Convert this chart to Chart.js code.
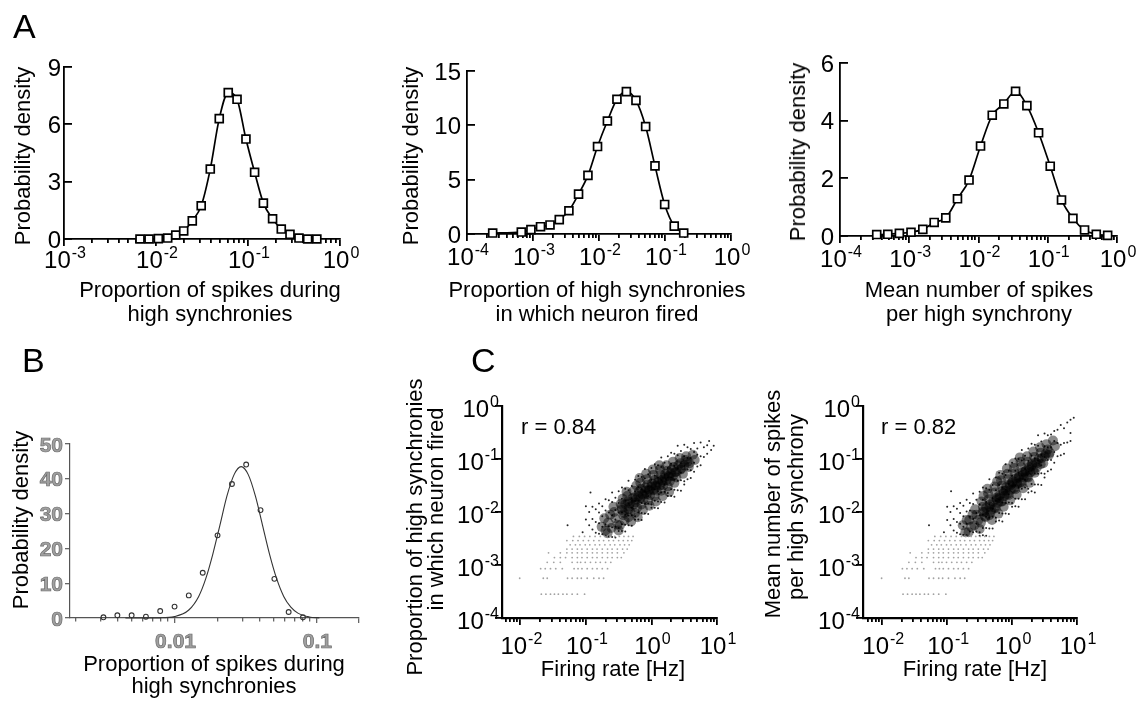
<!DOCTYPE html>
<html>
<head>
<meta charset="utf-8">
<title>Participation of neurons in high synchronies</title>
<script src="https://cdn.jsdelivr.net/npm/chart.js@4.4.1/dist/chart.umd.min.js"></script>
<style>
  body { margin: 0; background: #fff; }
  #fig { position: relative; width: 1139px; height: 701px; overflow: hidden;
         font-family: "Liberation Sans", Arial, sans-serif; color: #000; }
  #fig canvas { position: absolute; left: 0; top: 0; }
  .lbl { position: absolute; white-space: nowrap; font-size: 22px; line-height: 22px; }
  .ctr { transform: translateX(-50%); }
  .rot { transform: translate(-50%, -50%) rotate(-90deg); }
  .letter { position: absolute; font-size: 34px; line-height: 34px; }
</style>
</head>
<body>
<div id="fig">
  <canvas id="chartA1" width="1139" height="701"></canvas>
  <canvas id="chartA2" width="1139" height="701"></canvas>
  <canvas id="chartA3" width="1139" height="701"></canvas>
  <canvas id="chartB" width="1139" height="701"></canvas>
  <canvas id="chartC1" width="1139" height="701"></canvas>
  <canvas id="chartC2" width="1139" height="701"></canvas>

  <div class="letter" style="left:13px;top:9px">A</div>
  <div class="letter" style="left:22px;top:343px">B</div>
  <div class="letter" style="left:471px;top:343px">C</div>

  <!-- panel A axis titles -->
  <div class="lbl rot" style="left:23px;top:156px">Probability density</div>
  <div class="lbl rot" style="left:411px;top:156px">Probability density</div>
  <div class="lbl rot" style="left:798px;top:152px">Probability density</div>
  <div class="lbl ctr" style="left:210px;top:279px">Proportion of spikes during</div>
  <div class="lbl ctr" style="left:210px;top:303px">high synchronies</div>
  <div class="lbl ctr" style="left:597px;top:279px">Proportion of high synchronies</div>
  <div class="lbl ctr" style="left:597px;top:303px">in which neuron fired</div>
  <div class="lbl ctr" style="left:979px;top:279px">Mean number of spikes</div>
  <div class="lbl ctr" style="left:979px;top:303px">per high synchrony</div>

  <!-- panel B axis titles -->
  <div class="lbl rot" style="left:21px;top:520px">Probability density</div>
  <div class="lbl ctr" style="left:214px;top:653px">Proportion of spikes during</div>
  <div class="lbl ctr" style="left:214px;top:675px">high synchronies</div>

  <!-- panel C axis titles -->
  <div class="lbl rot" style="left:415px;top:527px">Proportion of high synchronies</div>
  <div class="lbl rot" style="left:436px;top:509px">in which neuron fired</div>
  <div class="lbl rot" style="left:773px;top:504px">Mean number of spikes</div>
  <div class="lbl rot" style="left:796px;top:507px">per high synchrony</div>
  <div class="lbl ctr" style="left:613px;top:658px">Firing rate [Hz]</div>
  <div class="lbl ctr" style="left:975px;top:658px">Firing rate [Hz]</div>
  <div class="lbl" style="left:521px;top:416px">r = 0.84</div>
  <div class="lbl" style="left:881px;top:416px">r = 0.82</div>
</div>

<script>
const W = 1139, H = 701;

// ---- Panel A, left: proportion of spikes during high synchronies
const a1Proportion = [0.0067, 0.0084, 0.0106, 0.0134, 0.0164, 0.0200, 0.0248, 0.031, 0.0389, 0.0487, 0.061,
                      0.076, 0.095, 0.118, 0.147, 0.185, 0.23, 0.286, 0.358, 0.445, 0.56];
const a1Density = [0, 0, 0.02, 0.05, 0.21, 0.42, 0.95, 1.74, 3.66, 6.3, 7.66,
                   7.31, 5.23, 3.49, 1.88, 1.06, 0.52, 0.24, 0.05, 0, 0];

// ---- Panel A, middle: proportion of high synchronies in which neuron fired
const a2Proportion = [0.000245, 0.000665, 0.00093, 0.0013, 0.00181, 0.0025, 0.0035, 0.0049, 0.0068, 0.0095,
                      0.0134, 0.0187, 0.026, 0.0363, 0.0509, 0.0705, 0.0988, 0.138, 0.192];
const a2Density = [0.09, 0.18, 0.4, 0.67, 0.83, 1.32, 2.14, 3.67, 5.39, 8.05,
                   10.4, 12.4, 13.1, 12.3, 9.89, 6.27, 2.72, 0.73, 0.09];

// ---- Panel A, right: mean number of spikes per high synchrony
const a3MeanSpikes = [0.000339, 0.00049, 0.00072, 0.00106, 0.00157, 0.00229, 0.00337, 0.00497, 0.0073, 0.0107,
                      0.0158, 0.0232, 0.0343, 0.050, 0.0737, 0.1086, 0.158, 0.231, 0.34, 0.502, 0.733];
const a3Density = [0.05, 0.06, 0.09, 0.13, 0.23, 0.47, 0.63, 1.29, 1.94, 3.12,
                   4.19, 4.58, 5.02, 4.52, 3.58, 2.42, 1.25, 0.61, 0.21, 0.06, 0.02];

// ---- Panel B: histogram points and fitted curve
const bProportion = [0.00315, 0.00395, 0.00498, 0.00628, 0.00792, 0.01, 0.0126, 0.0158, 0.0201, 0.0254,
                     0.032, 0.0404, 0.0506, 0.0638, 0.0805];
const bDensity = [0.2, 0.77, 0.77, 0.38, 2.0, 3.27, 6.5, 13.0, 23.75, 38.5,
                  44.1, 31.0, 11.25, 1.73, 0.2];
const bFitProportion = [0.0045, 0.0079, 0.01, 0.0126, 0.0148, 0.0166, 0.0186, 0.0209, 0.0234, 0.0263, 0.0295,
                        0.0331, 0.0372, 0.0417, 0.0468, 0.0525, 0.0589, 0.0661, 0.0741, 0.0891, 0.105];
const bFitDensity = [0, 0.05, 0.4, 2.3, 6.2, 11.3, 18.3, 26.7, 35.0, 41.2, 43.5,
                     41.2, 35.0, 26.7, 18.3, 11.3, 6.2, 3.1, 1.4, 0.3, 0.03];

// ---- Panel C scatter clouds, read as log10 values
// low-rate neurons sit on discrete rows (k spikes out of all synchronies); same in both panels
const lowRateRowsLog = [
  [-3.55, [-1.68, -1.61, -1.54, -1.48, -1.42, -1.35, -1.29, -1.21, -1.13, -1.02]],
  [-3.25, [-2.01, -1.65, -1.59, -1.28, -1.21, -1.13, -1.07, -0.98, -0.88, -0.80, -0.73]],
  [-3.07, [-1.69, -1.62, -1.54, -1.46, -1.36, -1.18, -1.12, -1.06, -0.98, -0.90, -0.83, -0.75, -0.67]],
  [-2.95, [-1.59, -1.49, -1.39, -1.21, -1.13, -1.08, -1.01, -0.93, -0.85, -0.78, -0.70, -0.62]],
  [-2.86, [-1.48, -1.39, -1.31, -1.21, -1.13, -1.06, -0.98, -0.90, -0.83, -0.75, -0.67, -0.60, -0.52, -0.46]],
  [-2.77, [-1.57, -1.39, -1.29, -1.21, -1.13, -1.06, -0.98, -0.90, -0.83, -0.75, -0.67, -0.60, -0.52, -0.42]],
  [-2.70, [-1.29, -1.21, -1.13, -1.06, -0.98, -0.90, -0.83, -0.75, -0.67, -0.60, -0.52, -0.44, -0.37]],
  [-2.62, [-1.24, -1.16, -1.09, -1.01, -0.94, -0.86, -0.79, -0.71, -0.63, -0.56, -0.48, -0.41, -0.34]],
  [-2.54, [-1.29, -1.20, -1.12, -1.04, -0.96, -0.88, -0.80, -0.73, -0.65, -0.58, -0.50, -0.43, -0.36, -0.30]],
  [-2.46, [-1.19, -1.10, -1.02, -0.94, -0.86, -0.78, -0.71, -0.63, -0.56, -0.49, -0.42, -0.35, -0.28]]
];

// dense core of panel C, left: [log10 rate, log10 proportion]
const c1CoreLog = [
  [-0.76,-2.28],[-0.72,-2.12],[-0.70,-2.35],[-0.66,-2.20],[-0.63,-2.05],[-0.61,-2.30],[-0.67,-2.40],
  [-0.57,-2.00],[-0.55,-2.12],[-0.52,-2.24],[-0.58,-1.90],[-0.50,-2.35],
  [-0.47,-1.85],[-0.45,-1.96],[-0.43,-2.06],[-0.41,-2.16],[-0.48,-2.25],[-0.44,-1.75],
  [-0.37,-1.70],[-0.36,-1.80],[-0.34,-1.90],[-0.32,-2.00],[-0.35,-2.10],[-0.38,-1.62],[-0.31,-2.18],
  [-0.27,-1.60],[-0.26,-1.72],[-0.24,-1.82],[-0.22,-1.92],[-0.25,-2.02],[-0.23,-1.50],[-0.21,-2.10],
  [-0.17,-1.45],[-0.16,-1.56],[-0.14,-1.66],[-0.12,-1.76],[-0.15,-1.86],[-0.13,-1.96],[-0.18,-1.36],
  [-0.07,-1.38],[-0.06,-1.48],[-0.04,-1.58],[-0.02,-1.68],[-0.05,-1.78],[-0.03,-1.88],[-0.08,-1.28],
  [0.03,-1.30],[0.04,-1.40],[0.06,-1.50],[0.08,-1.60],[0.05,-1.70],[0.07,-1.80],[0.02,-1.20],
  [0.13,-1.20],[0.14,-1.30],[0.16,-1.40],[0.18,-1.50],[0.15,-1.60],[0.17,-1.70],[0.12,-1.12],
  [0.23,-1.12],[0.24,-1.22],[0.26,-1.32],[0.28,-1.42],[0.25,-1.52],[0.27,-1.62],
  [0.33,-1.05],[0.34,-1.15],[0.36,-1.25],[0.38,-1.35],[0.35,-1.45],
  [0.43,-0.98],[0.44,-1.08],[0.46,-1.18],[0.48,-1.28],[0.53,-0.95],[0.55,-1.05],[0.57,-1.15],
  [0.63,-0.92],[0.66,-1.02],
  [-0.45,-1.92],[-0.42,-2.02],[-0.40,-1.85],[-0.35,-1.95],[-0.33,-1.84],[-0.29,-1.74],[-0.27,-1.86],
  [-0.24,-1.77],[-0.20,-1.70],[-0.19,-1.62],[-0.17,-1.74],[-0.13,-1.68],[-0.10,-1.60],[-0.09,-1.54],
  [-0.07,-1.66],[-0.03,-1.60],[0.00,-1.52],[0.01,-1.46],[0.03,-1.58],[0.07,-1.52],[0.10,-1.44],
  [0.11,-1.38],[0.13,-1.50],[0.17,-1.43],[0.20,-1.35],[0.21,-1.28],[0.23,-1.40],[0.27,-1.34],
  [0.30,-1.27],[0.31,-1.20],[0.33,-1.32],[0.38,-1.24],[0.41,-1.12],[0.44,-1.20],[0.50,-1.12],
  [0.52,-1.02],[0.58,-1.08]
];
// scattered outer dots of panel C, left: [log10 rate, [log10 proportion ...]]
const c1GrainLog = [
  [-1.00, [-1.89, -2.14]], [-0.95, [-2.00, -2.25]], [-0.90, [-1.90, -2.13, -2.33]],
  [-0.85, [-1.95, -2.19, -2.39]], [-0.80, [-1.84, -2.01, -2.21, -2.41]], [-0.75, [-1.89, -2.08, -2.28, -2.42]],
  [-0.70, [-1.76, -1.97, -2.23, -2.45]], [-0.65, [-1.78, -2.01, -2.27, -2.46]],
  [-0.60, [-1.63, -1.81, -2.06, -2.29, -2.47]], [-0.55, [-1.73, -1.96, -2.14, -2.28, -2.48]],
  [-0.50, [-1.61, -1.83, -2.01, -2.30, -2.36]], [-0.45, [-1.54, -1.75, -2.01, -2.23, -2.36]],
  [-0.40, [-1.56, -1.79, -2.05, -2.24, -2.37]], [-0.35, [-1.41, -1.59, -1.84, -2.07, -2.25]],
  [-0.30, [-1.51, -1.74, -1.92, -2.06, -2.26]], [-0.25, [-1.39, -1.61, -1.79, -2.08, -2.14]],
  [-0.20, [-1.32, -1.53, -1.79, -2.01, -2.14]], [-0.15, [-1.34, -1.57, -1.83, -2.02, -2.15]],
  [-0.10, [-1.19, -1.37, -1.62, -1.85, -2.03]], [-0.05, [-1.29, -1.52, -1.70, -1.84, -2.04]],
  [0.00, [-1.17, -1.39, -1.57, -1.86, -1.92]], [0.05, [-1.10, -1.31, -1.57, -1.79, -1.92]],
  [0.10, [-1.12, -1.35, -1.61, -1.80, -1.93]], [0.15, [-0.97, -1.15, -1.40, -1.63, -1.81]],
  [0.20, [-1.07, -1.30, -1.48, -1.62, -1.82]], [0.25, [-0.95, -1.17, -1.35, -1.64, -1.70]],
  [0.30, [-0.88, -1.09, -1.35, -1.57, -1.70]], [0.35, [-0.90, -1.13, -1.39, -1.58, -1.71]],
  [0.40, [-0.75, -0.93, -1.18, -1.41, -1.59]], [0.45, [-0.85, -1.08, -1.26, -1.40, -1.60]],
  [0.50, [-0.73, -0.95, -1.13, -1.42, -1.48]], [0.55, [-0.78, -0.98, -1.20, -1.38]],
  [0.60, [-0.81, -0.98, -1.21, -1.36]], [0.65, [-0.70, -0.87, -1.07, -1.24]],
  [0.70, [-0.80, -0.92, -1.14]], [0.75, [-0.69, -0.95, -1.12]], [0.80, [-0.78, -0.96]],
  [0.85, [-0.74, -0.90]], [0.88, [-0.66]], [0.91, [-0.83]], [0.95, [-0.75]],
  [-0.93, [-1.63]], [-1.28, [-2.25]], [-1.05, [-2.38]]
];

// dense core of panel C, right: [log10 rate, log10 spikes per synchrony]
const c2CoreLog = [
  [-0.76,-2.25],[-0.72,-2.38],[-0.70,-2.15],[-0.66,-2.15],[-0.63,-2.28],[-0.61,-2.05],[-0.67,-2.38],
  [-0.57,-1.95],[-0.55,-2.05],[-0.52,-2.15],[-0.58,-2.25],[-0.50,-2.32],
  [-0.47,-1.80],[-0.45,-1.90],[-0.43,-2.00],[-0.41,-2.10],[-0.48,-2.20],[-0.44,-1.70],
  [-0.37,-1.65],[-0.36,-1.76],[-0.34,-1.86],[-0.32,-1.96],[-0.35,-2.06],[-0.38,-1.56],[-0.31,-2.15],
  [-0.27,-1.52],[-0.26,-1.63],[-0.24,-1.73],[-0.22,-1.83],[-0.25,-1.93],[-0.23,-1.42],[-0.21,-2.03],
  [-0.17,-1.40],[-0.16,-1.50],[-0.14,-1.60],[-0.12,-1.70],[-0.15,-1.80],[-0.13,-1.90],[-0.18,-1.30],
  [-0.07,-1.28],[-0.06,-1.38],[-0.04,-1.48],[-0.02,-1.58],[-0.05,-1.68],[-0.03,-1.78],[-0.08,-1.18],
  [0.03,-1.17],[0.04,-1.27],[0.06,-1.37],[0.08,-1.47],[0.05,-1.57],[0.07,-1.67],[0.02,-1.08],
  [0.13,-1.05],[0.14,-1.15],[0.16,-1.25],[0.18,-1.35],[0.15,-1.45],[0.17,-1.55],[0.12,-0.97],
  [0.23,-0.95],[0.24,-1.05],[0.26,-1.15],[0.28,-1.25],[0.25,-1.35],[0.27,-1.45],
  [0.33,-0.86],[0.34,-0.96],[0.36,-1.06],[0.38,-1.16],[0.35,-1.26],
  [0.43,-0.78],[0.44,-0.88],[0.46,-0.98],[0.48,-1.08],[0.53,-0.72],[0.55,-0.82],[0.57,-0.92],
  [0.63,-0.65],[0.66,-0.76],
  [-0.45,-1.99],[-0.42,-2.08],[-0.40,-1.92],[-0.35,-1.90],[-0.33,-2.00],[-0.29,-1.80],[-0.27,-1.92],
  [-0.24,-1.76],[-0.20,-1.74],[-0.19,-1.68],[-0.17,-1.80],[-0.13,-1.64],[-0.10,-1.60],[-0.09,-1.54],
  [-0.07,-1.66],[-0.03,-1.50],[0.00,-1.45],[0.01,-1.42],[0.03,-1.55],[0.07,-1.44],[0.10,-1.35],
  [0.11,-1.32],[0.13,-1.44],[0.17,-1.30],[0.20,-1.24],[0.21,-1.22],[0.23,-1.34],[0.27,-1.20],
  [0.30,-1.13],[0.31,-1.10],[0.33,-1.22],[0.38,-1.08],[0.41,-1.00],[0.44,-1.10],[0.50,-0.95],
  [0.52,-0.90],[0.58,-0.88]
];
const c2GrainLog = [
  [-1.00, [-1.90, -2.15]], [-0.95, [-2.00, -2.25]], [-0.90, [-1.89, -2.13, -2.35]],
  [-0.85, [-1.94, -2.19, -2.39]], [-0.80, [-1.83, -2.02, -2.22, -2.42]], [-0.75, [-1.88, -2.08, -2.28, -2.43]],
  [-0.70, [-1.77, -1.99, -2.22, -2.44]], [-0.65, [-1.83, -1.97, -2.09, -2.37]],
  [-0.60, [-1.65, -1.85, -2.13, -2.38]], [-0.55, [-1.77, -2.02, -2.22, -2.37]],
  [-0.50, [-1.62, -1.86, -2.06, -2.38, -2.45]], [-0.45, [-1.54, -1.77, -2.05, -2.30, -2.44]],
  [-0.40, [-1.55, -1.81, -2.09, -2.30, -2.45]], [-0.35, [-1.38, -1.58, -1.86, -2.11, -2.31]],
  [-0.30, [-1.49, -1.74, -1.94, -2.09, -2.31]], [-0.25, [-1.35, -1.59, -1.79, -2.11, -2.18]],
  [-0.20, [-1.26, -1.49, -1.77, -2.02, -2.16]], [-0.15, [-1.28, -1.54, -1.82, -2.03, -2.18]],
  [-0.10, [-1.10, -1.30, -1.58, -1.83, -2.03]], [-0.05, [-1.22, -1.47, -1.67, -1.82, -2.04]],
  [0.00, [-1.07, -1.31, -1.51, -1.83, -1.90]], [0.05, [-0.99, -1.22, -1.50, -1.75, -1.89]],
  [0.10, [-1.00, -1.26, -1.54, -1.75, -1.90]], [0.15, [-0.83, -1.03, -1.31, -1.56, -1.76]],
  [0.20, [-0.94, -1.19, -1.39, -1.54, -1.76]], [0.25, [-0.80, -1.04, -1.24, -1.56, -1.63]],
  [0.30, [-0.71, -0.94, -1.22, -1.47, -1.61]], [0.35, [-0.73, -0.99, -1.27, -1.48, -1.63]],
  [0.40, [-0.55, -0.75, -1.03, -1.28, -1.48]], [0.45, [-0.67, -0.92, -1.12, -1.27, -1.49]],
  [0.50, [-0.52, -0.76, -0.96, -1.28, -1.35]], [0.55, [-0.55, -0.78, -1.02, -1.23]],
  [0.60, [-0.54, -0.78, -1.02, -1.20]], [0.65, [-0.47, -0.66, -0.87, -1.07]],
  [0.70, [-0.45, -0.70, -0.95]], [0.75, [-0.36, -0.73, -0.93]], [0.80, [-0.42, -0.70, -0.90]],
  [0.85, [-0.31, -0.69]], [0.90, [-0.26, -0.51, -0.66]], [0.95, [-0.22]],
  [-0.94, [-1.61]], [-1.28, [-2.25]], [-1.05, [-2.38]]
];

// ---- tick values and labels ("^" marks an exponent)
const a1XTicks = [0.001, 0.01, 0.1, 1];
const a1XLabels = ['10^-3', '10^-2', '10^-1', '10^0'];
const a1YTicks = [0, 3, 6, 9];
const a1YLabels = ['0', '3', '6', '9'];
const a2XTicks = [0.0001, 0.001, 0.01, 0.1, 1];
const a2XLabels = ['10^-4', '10^-3', '10^-2', '10^-1', '10^0'];
const a2YTicks = [0, 5, 10, 15];
const a2YLabels = ['0', '5', '10', '15'];
const a3YTicks = [0, 2, 4, 6];
const a3YLabels = ['0', '2', '4', '6'];
const bXTicks = [0.01, 0.1];
const bXLabels = ['0.01', '0.1'];
const bYTicks = [0, 10, 20, 30, 40, 50];
const bYLabels = ['0', '10', '20', '30', '40', '50'];
const cXTicks = [0.01, 0.1, 1, 10];
const cXLabels = ['10^-2', '10^-1', '10^0', '10^1'];
const cYTicks = [0.0001, 0.001, 0.01, 0.1, 1];
const cYLabels = ['10^-4', '10^-3', '10^-2', '10^-1', '10^0'];

// helpers
const toPoints = (xs, ys) => xs.map((x, i) => ({ x: x, y: ys[i] }));
const fromLog = pairs => pairs.map(p => ({ x: Math.pow(10, p[0]), y: Math.pow(10, p[1]) }));
const rowsToPoints = rows => rows.flatMap(r => r[1].map(lx => ({ x: Math.pow(10, lx), y: Math.pow(10, r[0]) })));
const columnsToPoints = cols => cols.flatMap(c => c[1].map(ly => ({ x: Math.pow(10, c[0]), y: Math.pow(10, ly) })));

function minorTicks(lo, hi) {
  const out = [];
  for (let e = Math.floor(Math.log10(lo)); e <= Math.ceil(Math.log10(hi)); e++) {
    for (let k = 2; k <= 9; k++) {
      const v = k * Math.pow(10, e);
      if (v > lo * 1.0001 && v < hi * 0.9999) out.push(v);
    }
  }
  return out;
}

function drawTickLabel(ctx, d, label, x, cy, align) {
  const parts = label.split('^');
  ctx.font = d.font;
  const wBase = ctx.measureText(parts[0]).width;
  let wExp = 0;
  if (parts[1]) { ctx.font = d.expFont; wExp = ctx.measureText(parts[1]).width + 1; }
  const left = align === 'center' ? x - (wBase + wExp) / 2 : x - (wBase + wExp);
  const baseline = cy + d.capHalf;
  ctx.textAlign = 'left';
  ctx.textBaseline = 'alphabetic';
  ctx.fillStyle = d.labelColor;
  ctx.font = d.font;
  ctx.fillText(parts[0], left, baseline);
  if (d.labelStroke) {
    ctx.strokeStyle = d.labelStroke;
    ctx.lineWidth = 0.7;
    ctx.strokeText(parts[0], left, baseline);
  }
  if (parts[1]) {
    ctx.font = d.expFont;
    ctx.fillText(parts[1], left + wBase + 1, baseline - d.expRaise);
  }
}

// tick labels with raised exponents, placed with the chart's own scales
function tickLabels(d) {
  return {
    id: 'tickLabels',
    afterDraw(chart) {
      const ctx = chart.ctx, xs = chart.scales.x, ys = chart.scales.y, a = chart.chartArea;
      ctx.save();
      d.xTicks.forEach((v, i) => drawTickLabel(ctx, d, d.xLabels[i], xs.getPixelForValue(v) + 1, a.bottom + d.xGap, 'center'));
      d.yTicks.forEach((v, i) => drawTickLabel(ctx, d, d.yLabels[i], a.left - d.yGap, ys.getPixelForValue(v) + (d.yDy || 0), 'right'));
      ctx.restore();
    }
  };
}

const FONT = '"Liberation Sans", Arial, sans-serif';
const styleA = { axisColor: '#000', axisWidth: 1.8, tickColor: '#000', tickWidth: 1.8, xMajorLen: 7, xMinorLen: 4,
                 yLen: -8, xGap: 21, font: '24px ' + FONT, expFont: '16px ' + FONT, capHalf: 8.6, expRaise: 9.5,
                 labelColor: '#000' };
const styleB = { axisColor: '#555', axisWidth: 1.2, tickColor: '#666', tickWidth: 1.3, xMajorLen: 5, xMinorLen: 3.5,
                 yLen: 5, xGap: 22, yGap: 7, font: 'bold 21px ' + FONT, expFont: 'bold 15px ' + FONT,
                 capHalf: 7.5, expRaise: 9, labelColor: '#a0a0a0', labelStroke: '#6a6a6a' };
const styleC = { axisColor: '#000', axisWidth: 2.2, tickColor: '#000', tickWidth: 1.8, xMajorLen: 7, xMinorLen: 4,
                 yLen: 7, xGap: 27, yGap: 3, yDy: 2, font: '24px ' + FONT, expFont: '16px ' + FONT,
                 capHalf: 8.6, expRaise: 9.5, labelColor: '#000' };

// an axis of zero thickness whose tick marks are drawn by Chart.js at the given values
function axisWithTicks(base, values, tickLength, d, isX, withBorder) {
  return Object.assign({}, base, {
    display: true,
    position: isX ? 'bottom' : 'left',
    ticks: { display: false },
    grid: { display: true, drawOnChartArea: false, drawTicks: true, tickLength: tickLength,
            color: d.tickColor, tickColor: d.tickColor, lineWidth: d.tickWidth, tickWidth: d.tickWidth },
    border: { display: withBorder, color: d.axisColor, width: d.axisWidth },
    afterBuildTicks: s => { s.ticks = values.map(v => ({ value: v })); },
    afterFit: s => { if (isX) s.height = 0; else s.width = 0; }
  });
}

// box = [left, right, top, bottom] of the plotting area in page pixels
function makeChart(id, box, xScale, yScale, datasets, d) {
  const xMajor = d.xTicks.concat(d.xExtra || []);
  return new Chart(document.getElementById(id), {
    type: 'scatter',
    data: { datasets: datasets },
    options: {
      responsive: false,
      animation: false,
      events: [],
      layout: { padding: { left: box[0], right: W - box[1], top: box[2], bottom: H - box[3] } },
      plugins: { legend: { display: false }, tooltip: { enabled: false } },
      scales: {
        x: axisWithTicks(xScale, xMajor, d.xMajorLen, d, true, true),
        xMinor: axisWithTicks(xScale, d.xMinor, d.xMinorLen, d, true, false),
        y: axisWithTicks(yScale, d.yTicks, d.yLen, d, false, true)
      }
    },
    plugins: [tickLabels(d)]
  });
}

const squareLine = data => ({
  data: data, showLine: true, borderColor: '#000', borderWidth: 1.7,
  cubicInterpolationMode: 'monotone', pointStyle: 'rect', pointRadius: 5.6,
  pointBorderWidth: 1.7, pointBorderColor: '#000', pointBackgroundColor: '#fff', clip: false
});

// Panel A
makeChart('chartA1', [64, 340, 67, 239],
  { type: 'logarithmic', min: 0.001, max: 1 }, { type: 'linear', min: 0, max: 9 },
  [squareLine(toPoints(a1Proportion, a1Density))],
  Object.assign({}, styleA, { xTicks: a1XTicks, xLabels: a1XLabels, xMinor: minorTicks(0.001, 1), xGap: 20,
    yTicks: a1YTicks, yLabels: a1YLabels, yGap: 3 }));

makeChart('chartA2', [467, 731, 71, 234],
  { type: 'logarithmic', min: 0.0001, max: 1 }, { type: 'linear', min: 0, max: 15 },
  [squareLine(toPoints(a2Proportion, a2Density))],
  Object.assign({}, styleA, { xTicks: a2XTicks, xLabels: a2XLabels, xMinor: minorTicks(0.0001, 1), xGap: 22,
    yTicks: a2YTicks, yLabels: a2YLabels, yGap: 6 }));

makeChart('chartA3', [840, 1117, 63, 236],
  { type: 'logarithmic', min: 0.0001, max: 1 }, { type: 'linear', min: 0, max: 6 },
  [squareLine(toPoints(a3MeanSpikes, a3Density))],
  Object.assign({}, styleA, { xTicks: a2XTicks, xLabels: a2XLabels, xMinor: minorTicks(0.0001, 1), xGap: 22,
    yTicks: a3YTicks, yLabels: a3YLabels, yGap: 6 }));

// Panel B
makeChart('chartB', [70, 359, 444, 618],
  { type: 'logarithmic', min: 0.00183, max: 0.2 }, { type: 'linear', min: 0, max: 50 },
  [
    { data: toPoints(bProportion, bDensity), pointRadius: 2.4, pointBorderWidth: 1.1,
      pointBorderColor: '#333', pointBackgroundColor: 'rgba(0,0,0,0)', clip: false },
    { data: toPoints(bFitProportion, bFitDensity), showLine: true, pointRadius: 0, borderColor: '#333',
      borderWidth: 1.1, cubicInterpolationMode: 'monotone', clip: false }
  ],
  Object.assign({}, styleB, { xTicks: bXTicks, xLabels: bXLabels, xExtra: [0.2], xMinor: minorTicks(0.00183, 0.2),
    yTicks: bYTicks, yLabels: bYLabels }));

// Panel C
const scatterSets = (core, grain) => [
  { data: rowsToPoints(lowRateRowsLog), pointRadius: 0.9, pointBorderWidth: 0, pointBackgroundColor: '#a2a2a2', clip: false },
  { data: columnsToPoints(grain), pointRadius: 1, pointBorderWidth: 0, pointBackgroundColor: 'rgba(0,0,0,0.85)', clip: false },
  { data: fromLog(core), pointRadius: 5, pointBorderWidth: 0, pointBackgroundColor: 'rgba(0,0,0,0.46)', clip: false }
];

makeChart('chartC1', [502, 717, 406, 618],
  { type: 'logarithmic', min: 0.00525, max: 10 }, { type: 'logarithmic', min: 0.0001, max: 1 },
  scatterSets(c1CoreLog, c1GrainLog),
  Object.assign({}, styleC, { xTicks: cXTicks, xLabels: cXLabels, xMinor: minorTicks(0.00525, 10),
    yTicks: cYTicks, yLabels: cYLabels }));

makeChart('chartC2', [863, 1077, 406, 618],
  { type: 'logarithmic', min: 0.00505, max: 10 }, { type: 'logarithmic', min: 0.0001, max: 1 },
  scatterSets(c2CoreLog, c2GrainLog),
  Object.assign({}, styleC, { xTicks: cXTicks, xLabels: cXLabels, xMinor: minorTicks(0.00505, 10),
    yTicks: cYTicks, yLabels: cYLabels }));
</script>
</body>
</html>
